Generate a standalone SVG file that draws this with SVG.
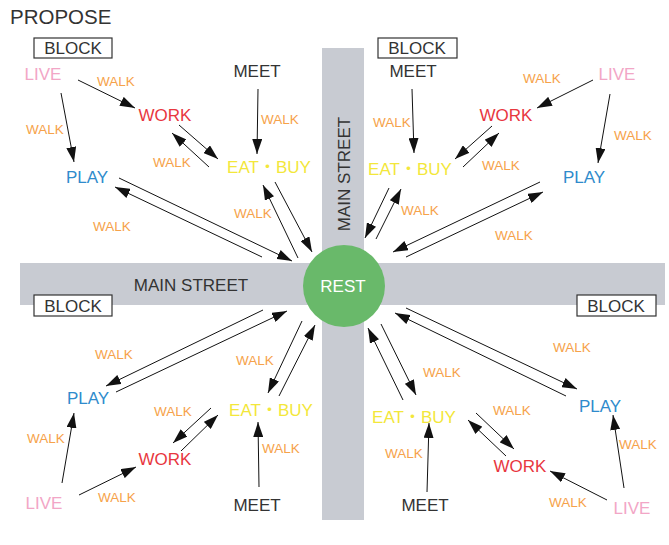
<svg xmlns="http://www.w3.org/2000/svg" width="669" height="545" viewBox="0 0 669 545">
<style>
text{font-family:"Liberation Sans","Noto Sans CJK JP",Arial,sans-serif;}
.lbl{font-size:17px;text-anchor:middle;}
.walk{font-size:13.5px;text-anchor:middle;fill:#f6a24a;}
.live{fill:#f2a6c6;}
.work{fill:#e8373f;}
.play{fill:#2f8bcc;}
.eat{fill:#f3e73a;}
.meet{fill:#333333;}
.blk rect{fill:#ffffff;stroke:#333;stroke-width:1.2;}
.blk text{font-size:17px;fill:#333;text-anchor:middle;}
.road{fill:#c8cbd2;}
.street{font-size:17px;fill:#333;text-anchor:middle;}
#connectors line{stroke:#111;stroke-width:1;marker-end:url(#ah);}
</style>
<defs>
<marker id="ah" markerUnits="userSpaceOnUse" markerWidth="15" markerHeight="10" refX="15" refY="5" orient="auto">
<path d="M0,0 L15,5 L0,10 z" fill="#111"/>
</marker>
</defs>
<rect width="669" height="545" fill="#ffffff"/>
<text x="10" y="24" font-size="20.5" fill="#333">PROPOSE</text>
<g id="roads">
<rect class="road" x="322" y="48" width="42" height="472"/>
<rect class="road" x="20" y="263" width="645" height="42"/>
<text class="street" x="191" y="291">MAIN STREET</text>
<text class="street" transform="translate(350,174) rotate(-90)">MAIN STREET</text>
</g>
<g id="rest"><circle cx="344" cy="286" r="41" fill="#69b96a"/><text class="lbl" x="343" y="292" fill="#ffffff">REST</text></g>
<g id="block-tl" class="blk"><rect x="34" y="38" width="78" height="20"/><text x="73" y="54">BLOCK</text></g>
<g id="block-tr" class="blk"><rect x="378" y="38" width="79" height="20"/><text x="417" y="54">BLOCK</text></g>
<g id="block-bl" class="blk"><rect x="34" y="295" width="78" height="21"/><text x="73" y="312">BLOCK</text></g>
<g id="block-br" class="blk"><rect x="577" y="295" width="79" height="21"/><text x="616" y="312">BLOCK</text></g>
<g id="tl-live"><text class="lbl live" x="43" y="80">LIVE</text></g>
<g id="tl-work"><text class="lbl work" x="165" y="121">WORK</text></g>
<g id="tl-meet"><text class="lbl meet" x="257" y="77">MEET</text></g>
<g id="tl-eat"><text class="lbl eat" x="269" y="173">EAT・BUY</text></g>
<g id="tl-play"><text class="lbl play" x="87" y="183">PLAY</text></g>
<g id="tr-meet"><text class="lbl meet" x="413" y="77">MEET</text></g>
<g id="tr-live"><text class="lbl live" x="617" y="80">LIVE</text></g>
<g id="tr-work"><text class="lbl work" x="506" y="121">WORK</text></g>
<g id="tr-eat"><text class="lbl eat" x="410" y="175">EAT・BUY</text></g>
<g id="tr-play"><text class="lbl play" x="584" y="183">PLAY</text></g>
<g id="bl-play"><text class="lbl play" x="88" y="404">PLAY</text></g>
<g id="bl-eat"><text class="lbl eat" x="271" y="416">EAT・BUY</text></g>
<g id="bl-work"><text class="lbl work" x="165" y="465">WORK</text></g>
<g id="bl-live"><text class="lbl live" x="44" y="509">LIVE</text></g>
<g id="bl-meet"><text class="lbl meet" x="257" y="511">MEET</text></g>
<g id="br-eat"><text class="lbl eat" x="414" y="423">EAT・BUY</text></g>
<g id="br-play"><text class="lbl play" x="600" y="412">PLAY</text></g>
<g id="br-work"><text class="lbl work" x="520" y="472">WORK</text></g>
<g id="br-meet"><text class="lbl meet" x="425" y="511">MEET</text></g>
<g id="br-live"><text class="lbl live" x="632" y="514">LIVE</text></g>
<g id="connectors">
<line x1="78" y1="80" x2="135" y2="108"/>
<line x1="61" y1="93" x2="74" y2="162"/>
<line x1="258" y1="89" x2="257" y2="154"/>
<line x1="179" y1="125" x2="218" y2="159"/>
<line x1="209" y1="167" x2="172" y2="133"/>
<line x1="119" y1="178" x2="292" y2="261"/>
<line x1="262" y1="257" x2="115" y2="187"/>
<line x1="275" y1="182" x2="312" y2="252"/>
<line x1="298" y1="258" x2="263" y2="185"/>
<line x1="412" y1="89" x2="414" y2="153"/>
<line x1="593" y1="80" x2="537" y2="108"/>
<line x1="610" y1="94" x2="598" y2="163"/>
<line x1="492" y1="126" x2="455" y2="159"/>
<line x1="463" y1="167" x2="499" y2="133"/>
<line x1="389" y1="188" x2="365" y2="238"/>
<line x1="376" y1="239" x2="401" y2="189"/>
<line x1="540" y1="182" x2="393" y2="252"/>
<line x1="406" y1="257" x2="543" y2="192"/>
<line x1="263" y1="310" x2="106" y2="386"/>
<line x1="116" y1="392" x2="287" y2="311"/>
<line x1="302" y1="321" x2="268" y2="393"/>
<line x1="279" y1="396" x2="315" y2="325"/>
<line x1="211" y1="408" x2="173" y2="443"/>
<line x1="181" y1="451" x2="218" y2="415"/>
<line x1="62" y1="483" x2="74" y2="413"/>
<line x1="79" y1="495" x2="136" y2="467"/>
<line x1="259" y1="487" x2="258" y2="422"/>
<line x1="406" y1="308" x2="577" y2="389"/>
<line x1="566" y1="396" x2="395" y2="313"/>
<line x1="381" y1="324" x2="416" y2="395"/>
<line x1="403" y1="400" x2="368" y2="328"/>
<line x1="476" y1="413" x2="514" y2="449"/>
<line x1="506" y1="456" x2="468" y2="420"/>
<line x1="427" y1="492" x2="429" y2="423"/>
<line x1="607" y1="500" x2="550" y2="471"/>
<line x1="624" y1="488" x2="613" y2="415"/>
</g>
<g id="connector-labels">
<text class="walk" x="116" y="86">WALK</text>
<text class="walk" x="45" y="134">WALK</text>
<text class="walk" x="280" y="124">WALK</text>
<text class="walk" x="172" y="167">WALK</text>
<text class="walk" x="253" y="218">WALK</text>
<text class="walk" x="112" y="231">WALK</text>
<text class="walk" x="542" y="83">WALK</text>
<text class="walk" x="392" y="127">WALK</text>
<text class="walk" x="633" y="140">WALK</text>
<text class="walk" x="501" y="170">WALK</text>
<text class="walk" x="420" y="215">WALK</text>
<text class="walk" x="514" y="240">WALK</text>
<text class="walk" x="114" y="359">WALK</text>
<text class="walk" x="255" y="365">WALK</text>
<text class="walk" x="173" y="416">WALK</text>
<text class="walk" x="46" y="443">WALK</text>
<text class="walk" x="281" y="453">WALK</text>
<text class="walk" x="117" y="502">WALK</text>
<text class="walk" x="572" y="352">WALK</text>
<text class="walk" x="442" y="377">WALK</text>
<text class="walk" x="512" y="415">WALK</text>
<text class="walk" x="404" y="458">WALK</text>
<text class="walk" x="638" y="449">WALK</text>
<text class="walk" x="568" y="507">WALK</text>
</g>
</svg>
